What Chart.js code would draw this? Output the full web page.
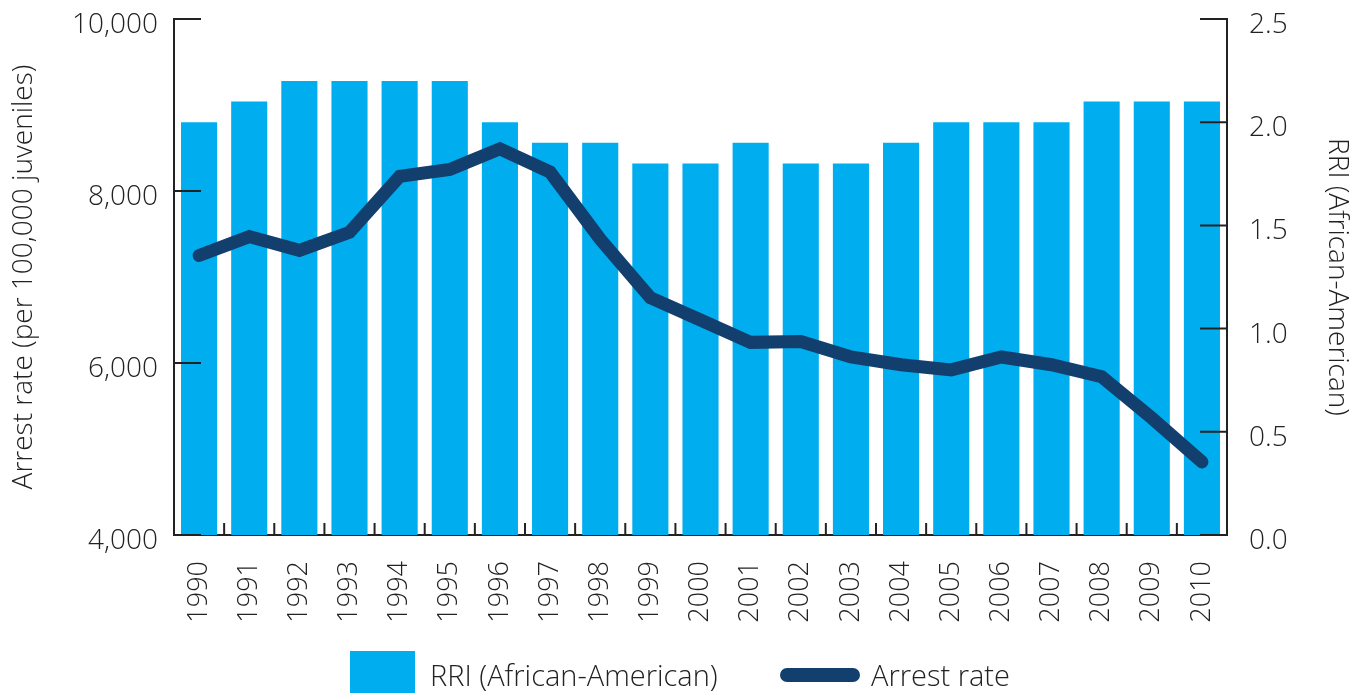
<!DOCTYPE html>
<html>
<head>
<meta charset="utf-8">
<script src="https://cdn.jsdelivr.net/npm/chart.js@4/dist/chart.umd.min.js"></script>
<style>
  body { margin: 0; background: #fff; overflow: hidden; }
  #wrap { position: relative; width: 1360px; height: 693px; }
  .legend { position: absolute; top: 651px; left: 0; width: 1360px; height: 48px;
    font-family: 'Open Sans', sans-serif; font-weight: 300; font-size: 29px; color: #222; }
  .legend span { position: absolute; line-height: 48px; white-space: nowrap; }
  .box { position: absolute; left: 350px; top: 0; width: 65px; height: 48px; background: #00aeef; }
  .ln { position: absolute; left: 780px; top: 17px; width: 80px; height: 14px; border-radius: 7px; background: #133f6e; }
</style>
</head>
<body>
<div id="wrap">
  <canvas id="chart" width="1360" height="693"></canvas>
  <div class="legend">
    <div class="box"></div>
    <span style="left:430px">RRI (African-American)</span>
    <div class="ln"></div>
    <span style="left:871px">Arrest rate</span>
  </div>
</div>
<script>
// дані з графіка
const years = ['1990','1991','1992','1993','1994','1995','1996','1997','1998','1999','2000',
  '2001','2002','2003','2004','2005','2006','2007','2008','2009','2010'];
const rri = [2.0, 2.1, 2.2, 2.2, 2.2, 2.2, 2.0, 1.9, 1.9, 1.8, 1.8,
  1.9, 1.8, 1.8, 1.9, 2.0, 2.0, 2.0, 2.1, 2.1, 2.1];
const arrestRate = [7250, 7470, 7310, 7520, 8170, 8250, 8490, 8220, 7440, 6760, 6500,
  6240, 6250, 6070, 5980, 5920, 6070, 5980, 5840, 5360, 4850];

const textColor = '#222';
const font = { family: "'Open Sans', sans-serif", weight: 300 };

// короткі риски всередину графіка
const innerTicks = {
  id: 'innerTicks',
  afterDatasetsDraw(chart) {
    const ctx = chart.ctx;
    const { x, y, y1 } = chart.scales;
    ctx.save();
    ctx.strokeStyle = textColor;
    ctx.lineWidth = 2;
    ctx.beginPath();
    y.ticks.forEach((t, i) => {
      const py = y.getPixelForTick(i);
      ctx.moveTo(y.right, py); ctx.lineTo(y.right + 27, py);
    });
    y1.ticks.forEach((t, i) => {
      const py = y1.getPixelForTick(i);
      ctx.moveTo(y1.left, py); ctx.lineTo(y1.left - 27, py);
    });
    for (let i = 1; i < years.length; i++) {
      const px = (x.getPixelForTick(i) + x.getPixelForTick(i - 1)) / 2;
      ctx.moveTo(px, x.top); ctx.lineTo(px, x.top - 12);
    }
    ctx.stroke();
    ctx.restore();
  }
};

// фіксовані розміри осей, без додаткових відступів
function fixBox(w, h) {
  return scale => {
    if (w) scale.width = w;
    if (h) scale.height = h;
    scale.paddingTop = 0; scale.paddingBottom = 0;
    scale.paddingLeft = 0; scale.paddingRight = 0;
  };
}

new Chart(document.getElementById('chart'), {
  data: {
    labels: years,
    datasets: [
      {
        type: 'line',
        label: 'Arrest rate',
        data: arrestRate,
        yAxisID: 'y',
        borderColor: '#133f6e',
        borderWidth: 13,
        borderCapStyle: 'round',
        borderJoinStyle: 'miter',
        pointRadius: 0,
        tension: 0,
        order: 0
      },
      {
        type: 'bar',
        label: 'RRI (African-American)',
        data: rri,
        yAxisID: 'y1',
        backgroundColor: '#00aeef',
        barPercentage: 0.72,
        categoryPercentage: 1.0,
        order: 1
      }
    ]
  },
  options: {
    responsive: false,
    animation: false,
    layout: { padding: { top: 19, left: 0, right: 0, bottom: 0 } },
    plugins: { legend: { display: false }, tooltip: { enabled: false } },
    scales: {
      x: {
        grid: { display: false },
        border: { display: true, color: textColor, width: 2 },
        ticks: {
          color: textColor, font: { ...font, size: 27 },
          minRotation: 90, maxRotation: 90, padding: 18, autoSkip: false
        },
        afterFit: fixBox(0, 158)
      },
      y: {
        position: 'left',
        min: 4000, max: 10000,
        grid: { display: false },
        border: { display: true, color: textColor, width: 2 },
        ticks: {
          stepSize: 2000, color: textColor, font: { ...font, size: 28 },
          padding: 8, labelOffset: 6
        },
        title: {
          display: true, text: 'Arrest rate (per 100,000 juveniles)',
          color: textColor, font: { ...font, size: 28 }, padding: { top: 7, bottom: 0 }
        },
        afterFit: fixBox(174, 0)
      },
      y1: {
        position: 'right',
        min: 0, max: 2.5,
        grid: { display: false },
        border: { display: true, color: textColor, width: 2 },
        ticks: {
          stepSize: 0.5, color: textColor, font: { ...font, size: 28 },
          padding: 14, labelOffset: 6,
          callback: v => v.toFixed(1)
        },
        title: {
          display: true, text: 'RRI (African-American)',
          color: textColor, font: { ...font, size: 28 }, padding: { top: 6, bottom: 0 }
        },
        afterFit: fixBox(133, 0)
      }
    }
  },
  plugins: [innerTicks]
});
</script>
</body>
</html>
